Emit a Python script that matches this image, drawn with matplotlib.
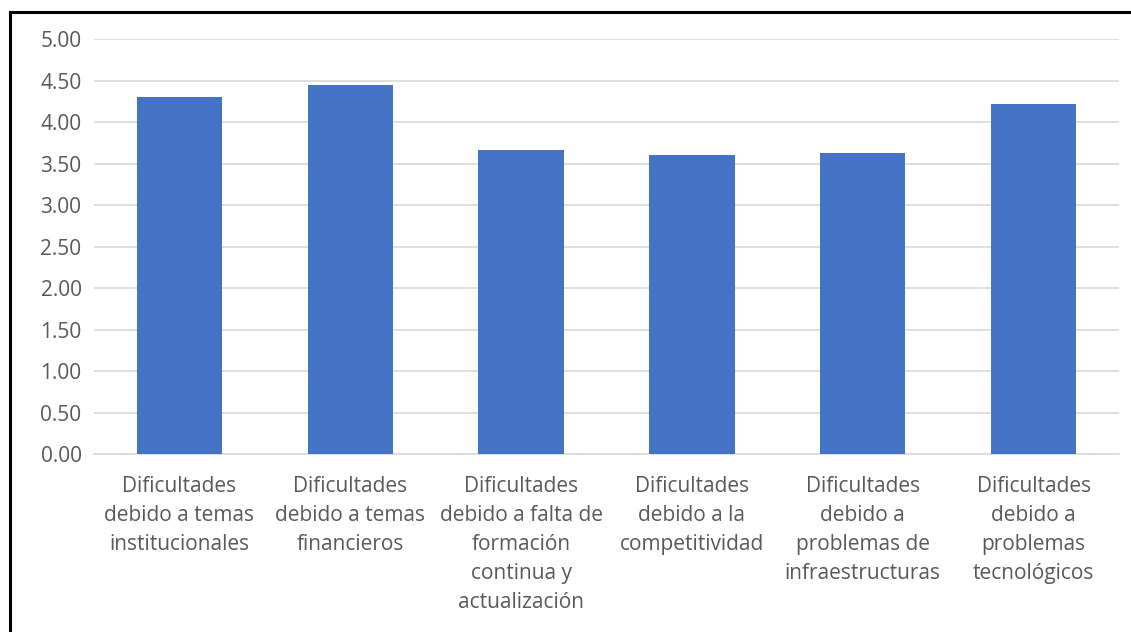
import matplotlib.pyplot as plt
from matplotlib.lines import Line2D

categories = [
    "Dificultades\ndebido a temas\ninstitucionales",
    "Dificultades\ndebido a temas\nfinancieros",
    "Dificultades\ndebido a falta de\nformación\ncontinua y\nactualización",
    "Dificultades\ndebido a la\ncompetitividad",
    "Dificultades\ndebido a\nproblemas de\ninfraestructuras",
    "Dificultades\ndebido a\nproblemas\ntecnológicos",
]
values = [4.30, 4.45, 3.67, 3.61, 3.63, 4.22]
yticks = [0.0, 0.5, 1.0, 1.5, 2.0, 2.5, 3.0, 3.5, 4.0, 4.5, 5.0]

plt.rcParams['font.family'] = ['Open Sans', 'DejaVu Sans']
text_color = "#595959"

fig = plt.figure(figsize=(11.31, 6.32), dpi=100)
ax = fig.add_axes([94 / 1131, 1 - 454 / 632, (1119 - 94) / 1131, (454 - 39.3) / 632])

x = range(len(values))
ax.bar(x, values, width=0.5, color="#4472C4", zorder=3)

ax.set_xlim(-0.5, len(values) - 0.5)
ax.set_ylim(0, 5)
ax.set_yticks(yticks)
ax.set_yticklabels([f"{v:.2f}" for v in yticks])
ax.set_xticks(list(x))
ax.set_xticklabels(categories, linespacing=1.5)

ax.grid(axis="y", color="#D9D9D9", linewidth=1.2, zorder=0)
for side in ["top", "right", "left"]:
    ax.spines[side].set_visible(False)
ax.spines["bottom"].set_color("#D9D9D9")
ax.spines["bottom"].set_linewidth(1.2)

ax.tick_params(axis="both", length=0, labelsize=15, colors=text_color)
ax.tick_params(axis="y", pad=9)
ax.tick_params(axis="x", pad=16)

# black frame on the top and left edges
fig.add_artist(Line2D([10 / 1131, 1], [1 - 12 / 632, 1 - 12 / 632], color="black", linewidth=2.2, transform=fig.transFigure))
fig.add_artist(Line2D([10 / 1131, 10 / 1131], [0, 1 - 12 / 632], color="black", linewidth=2.2, transform=fig.transFigure))

fig.savefig("out.png", dpi=100)
